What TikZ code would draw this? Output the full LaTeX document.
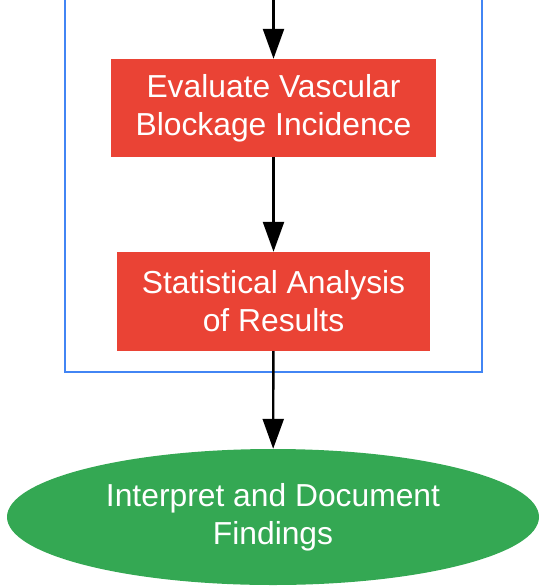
\documentclass[tikz,border=0pt]{standalone}
\usepackage{fontspec}
\setmainfont{Liberation Sans}
\usetikzlibrary{arrows.meta,shapes.geometric}
\definecolor{stepred}{HTML}{EA4335}
\definecolor{endgreen}{HTML}{34A853}
\definecolor{frameblue}{HTML}{4285F4}

\begin{document}
\begin{tikzpicture}[x=1pt,y=-1pt,
		flowarrow/.style={line width=2.4pt, -{Triangle[length=30pt,width=21pt]}},
		stepbox/.style={fill=stepred, text=white, align=center, inner sep=0pt, font=\fontsize{31.8}{38.2}\selectfont},
		endblob/.style={ellipse, fill=endgreen, text=white, align=center, inner sep=0pt, font=\fontsize{31.8}{38.2}\selectfont}]
			%%%%% START %%%%%
			
			\useasboundingbox (0, 0) rectangle (539, 586);
			
			\draw[line width=2pt, color=frameblue] (65, 0) -- (65, 372) -- (482, 372) -- (482, 0);
			
			\coordinate (entry) at (273.5, 0);
			\node[stepbox, minimum width=325pt, minimum height=98pt] (evaluate) at (273.5, 108) {Evaluate Vascular\\Blockage Incidence};
			\node[stepbox, minimum width=313pt, minimum height=99pt] (analysis) at (273.5, 301.5) {Statistical Analysis\\of Results};
			\node[endblob, minimum width=532pt, minimum height=136pt] (findings) at (273, 517) {Interpret and Document\\Findings};
			
			\draw[flowarrow] (entry) -- (evaluate);
			\draw[flowarrow] (evaluate) -- (analysis);
			\draw[flowarrow] (analysis) -- (findings);
			
			%%%%% END %%%%%
\end{tikzpicture}
\end{document}
